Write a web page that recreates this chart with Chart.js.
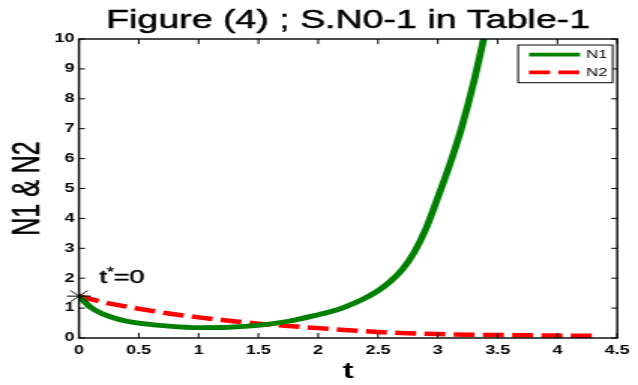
<!DOCTYPE html>
<html><head><meta charset="utf-8">
<script src="https://cdn.jsdelivr.net/npm/chart.js@4/dist/chart.umd.min.js"></script>
<style>
html,body{margin:0;padding:0;background:#fff;overflow:hidden;width:638px;height:385px;}
#wrap{position:absolute;left:0;top:0;width:425px;height:385px;transform:scaleX(1.50118);transform-origin:0 0;}
</style></head><body>
<div id="wrap"><canvas id="c"></canvas></div>
<script>
const titleText = 'Figure (4) ; S.N0-1 in Table-1';
const xTitle = 't';
const yTitle = 'N1 & N2';
const seriesNames = ['N1', 'N2'];
const seriesColors = ['#008000', '#ff0000'];
const tN1 = [0, 0.1, 0.2, 0.3, 0.4, 0.5, 0.75, 1.0, 1.25, 1.5, 1.75, 2.0, 2.1, 2.2, 2.3, 2.4, 2.5, 2.6, 2.7, 2.8, 2.9, 3.0, 3.1, 3.2, 3.3, 3.4];
const valuesN1 = [1.4, 1.02, 0.8, 0.66, 0.56, 0.5, 0.4, 0.35, 0.36, 0.42, 0.56, 0.78, 0.88, 1.0, 1.16, 1.35, 1.58, 1.88, 2.28, 2.85, 3.65, 4.7, 5.8, 7.05, 8.55, 10.3];
const tN2 = [0, 0.25, 0.5, 0.75, 1.0, 1.25, 1.5, 1.75, 2.0, 2.25, 2.5, 2.75, 3.0, 3.25, 3.5, 3.75, 4.0, 4.33];
const valuesN2 = [1.4, 1.16, 0.98, 0.82, 0.69, 0.58, 0.48, 0.4, 0.33, 0.26, 0.2, 0.16, 0.13, 0.11, 0.1, 0.09, 0.08, 0.07];
const xTickValues = [0, 0.5, 1, 1.5, 2, 2.5, 3, 3.5, 4, 4.5];
const yTickValues = [0, 1, 2, 3, 4, 5, 6, 7, 8, 9, 10];
const startPoint = {x: 0, y: 1.4};
const annotationParts = ['t', '*', '=0'];
const annotationAt = {x: 0.17, y: 1.85};

const FONT = '"Liberation Sans", Arial, Helvetica, sans-serif';

function toXY(ts, vs) { return ts.map((t, i) => ({x: t, y: vs[i]})); }

function heavyText(ctx, s, x, y, sw) {
  ctx.fillText(s, x, y);
  ctx.lineWidth = sw;
  ctx.strokeStyle = '#000';
  ctx.strokeText(s, x, y);
}

const decor = {
  id: 'decor',
  afterDatasetsDraw(chart) {
    const ctx = chart.ctx, a = chart.chartArea;
    const xs = chart.scales.x, ys = chart.scales.y;
    ctx.save();
    // box
    ctx.strokeStyle = '#000';
    ctx.lineWidth = 1.4;
    ctx.strokeRect(a.left, a.top, a.right - a.left, a.bottom - a.top);
    // inward ticks
    ctx.lineWidth = 1;
    ctx.beginPath();
    xTickValues.forEach(v => {
      const px = xs.getPixelForValue(v);
      ctx.moveTo(px, a.bottom); ctx.lineTo(px, a.bottom - 5);
      ctx.moveTo(px, a.top); ctx.lineTo(px, a.top + 5);
    });
    yTickValues.forEach(v => {
      const py = ys.getPixelForValue(v);
      ctx.moveTo(a.left, py); ctx.lineTo(a.left + 4, py);
      ctx.moveTo(a.right, py); ctx.lineTo(a.right - 4, py);
    });
    ctx.stroke();

    // legend
    const lx = 345.1, ly = 45, lw = 63, lh = 37.7;
    ctx.fillStyle = '#fff';
    ctx.fillRect(lx, ly, lw, lh);
    ctx.strokeStyle = '#000';
    ctx.lineWidth = 1;
    ctx.strokeRect(lx, ly, lw, lh);
    const rows = chart.data.datasets.filter(d => seriesNames.includes(d.label));
    rows.forEach((d, i) => {
      const yy = ly + 9.7 + i * 17.6;
      ctx.save();
      ctx.strokeStyle = d.borderColor;
      ctx.lineWidth = 3.8;
      ctx.lineCap = 'butt';
      ctx.setLineDash(d.borderDash || []);
      ctx.beginPath();
      ctx.moveTo(lx + 7.3, yy);
      ctx.lineTo(lx + 41.3, yy);
      ctx.stroke();
      ctx.restore();
      ctx.fillStyle = '#000';
      ctx.font = '11px ' + FONT;
      ctx.textAlign = 'left';
      ctx.textBaseline = 'middle';
      ctx.fillText(d.label, lx + 45.5, yy + 0.5);
    });

    // annotation t*=0
    const ax = xs.getPixelForValue(annotationAt.x);
    const ay = ys.getPixelForValue(annotationAt.y);
    ctx.fillStyle = '#000';
    ctx.textAlign = 'left';
    ctx.textBaseline = 'alphabetic';
    ctx.font = '18px ' + FONT;
    heavyText(ctx, annotationParts[0], ax, ay, 0.45);
    let w = ctx.measureText(annotationParts[0]).width;
    ctx.font = '12px ' + FONT;
    heavyText(ctx, annotationParts[1], ax + w, ay - 7, 0.3);
    w += ctx.measureText(annotationParts[1]).width;
    ctx.font = '18px ' + FONT;
    heavyText(ctx, annotationParts[2], ax + w, ay, 0.45);

    // titles
    const cx = (a.left + a.right) / 2;
    ctx.textAlign = 'center';
    ctx.font = '25px ' + FONT;
    heavyText(ctx, titleText, cx, 28, 0.45);
    ctx.font = 'bold 22px ' + FONT;
    ctx.fillText(xTitle, cx, 378);
    ctx.save();
    ctx.translate(19.5, (a.top + a.bottom) / 2);
    ctx.rotate(-Math.PI / 2);
    ctx.font = '25px ' + FONT;
    ctx.textBaseline = 'middle';
    heavyText(ctx, yTitle, 0, 0, 0.45);
    ctx.restore();
    ctx.restore();
  }
};

new Chart(document.getElementById('c'), {
  type: 'line',
  data: {
    datasets: [
      {
        label: 'start',
        data: [startPoint],
        showLine: false,
        pointStyle: 'star',
        pointRadius: 8,
        pointBorderColor: '#000',
        pointBorderWidth: 1,
        clip: false
      },
      {
        label: seriesNames[0],
        data: toXY(tN1, valuesN1),
        borderColor: seriesColors[0],
        borderWidth: 4.8,
        pointRadius: 0,
        cubicInterpolationMode: 'monotone',
        fill: false
      },
      {
        label: seriesNames[1],
        data: toXY(tN2, valuesN2),
        borderColor: seriesColors[1],
        borderWidth: 4.5,
        borderDash: [14, 5.5],
        borderCapStyle: 'butt',
        pointRadius: 0,
        cubicInterpolationMode: 'monotone',
        fill: false
      }
    ]
  },
  options: {
    responsive: true,
    maintainAspectRatio: false,
    animation: false,
    events: [],
    layout: {padding: {left: 0, top: 39, right: 9.1, bottom: 0}},
    plugins: {legend: {display: false}, title: {display: false}, tooltip: {enabled: false}},
    scales: {
      x: {
        type: 'linear', min: 0, max: 4.5,
        afterBuildTicks: s => { s.ticks = xTickValues.map(v => ({value: v})); },
        afterFit: s => { s.height = 47; },
        ticks: {color: '#000', font: {family: FONT, size: 12, weight: 'bold'}, padding: 5.5, maxRotation: 0, autoSkip: false, callback: v => String(v)},
        grid: {display: false, drawTicks: false},
        border: {display: false}
      },
      y: {
        type: 'linear', min: 0, max: 10,
        afterBuildTicks: s => { s.ticks = yTickValues.map(v => ({value: v})); },
        afterFit: s => { s.width = 52.6; },
        ticks: {color: '#000', font: {family: FONT, size: 12, weight: 'bold'}, padding: 3, autoSkip: false, callback: v => String(v)},
        grid: {display: false, drawTicks: false},
        border: {display: false}
      }
    }
  },
  plugins: [decor]
});
</script>
</body></html>
